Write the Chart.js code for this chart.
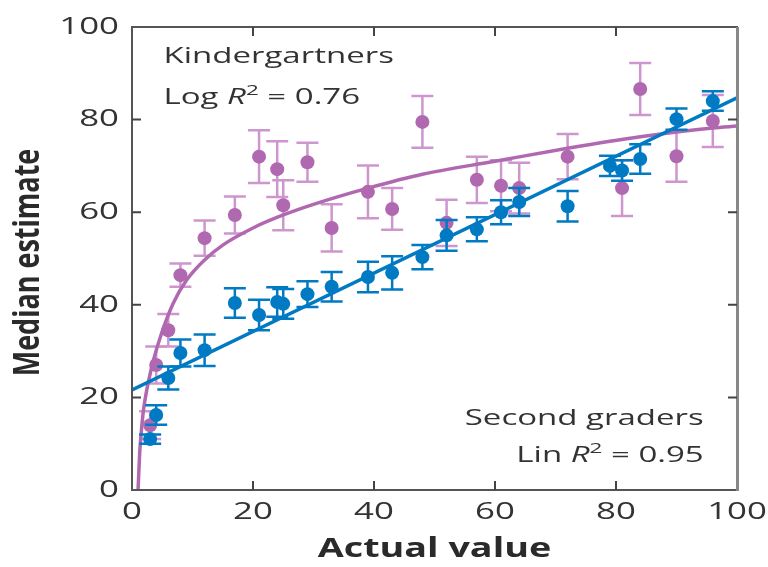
<!DOCTYPE html>
<html>
<head>
<meta charset="utf-8">
<script src="https://cdn.jsdelivr.net/npm/chart.js@4.4.1/dist/chart.umd.min.js"></script>
<style>
  html, body { margin: 0; padding: 0; background: #fff; }
  #wrap { width: 768px; height: 567px; position: relative; }
</style>
</head>
<body>
<div id="wrap"><canvas id="myChart"></canvas></div>
<script>
// kindergartners (purple)
const kinderX = [3, 4, 6, 8, 12, 17, 21, 24, 25, 29, 33, 39, 43, 48, 52, 57, 61, 64, 72, 81, 84, 90, 96];
const kinderY = [14, 27, 34.5, 46.4, 54.4, 59.4, 72, 69.3, 61.5, 70.8, 56.6, 64.4, 60.7, 79.5, 57.7, 67, 65.7, 65.2, 72, 65.2, 86.6, 72.1, 79.7];
const kinderErr = [3, 4, 3.5, 2.5, 3.8, 4, 5.7, 6, 5.4, 4.2, 5.1, 5.7, 4.5, 5.6, 5, 5, 5.5, 5.5, 4.9, 6, 5.6, 5.5, 5.6];

// second graders (blue)
const gradersX = [3, 4, 6, 8, 12, 17, 21, 24, 25, 29, 33, 39, 43, 48, 52, 57, 61, 64, 72, 79, 81, 84, 90, 96];
const gradersY = [11, 16.2, 24.2, 29.6, 30.2, 40.4, 37.8, 40.6, 40.2, 42.3, 43.9, 46, 46.9, 50.3, 55, 56.3, 60, 62.2, 61.3, 70, 69, 71.5, 80.1, 84];
const gradersErr = [1, 2.1, 2.5, 2.9, 3.4, 3.2, 3.3, 3.2, 3.2, 2.8, 3.2, 3.3, 3.6, 2.6, 3.3, 2.6, 2.6, 3, 3.3, 2.2, 2.2, 3.2, 2.3, 2.1];

// fitted curves
const logFitX = [1, 1.15, 1.3, 1.6, 1.9, 2.3, 2.7, 3.5, 4.9, 6.8, 9, 12, 15, 20, 25, 30, 39, 48, 60, 72, 84, 96, 100];
const logFitY = [0, 4.5, 8.6, 13.5, 17.3, 20.6, 23.3, 27.8, 33.9, 40.3, 45.3, 49.7, 52.9, 56.6, 59.4, 61.7, 65.2, 68.2, 71, 73.8, 76.3, 78.2, 78.6];
const linFitX = [0, 100];
const linFitY = [21.6, 84.7];

const xTicks = [0, 20, 40, 60, 80, 100];
const yTicks = [0, 20, 40, 60, 80, 100];

const PURPLE = "rgb(176, 104, 176)";
const PURPLE_LIGHT = "rgb(206, 150, 206)";
const BLUE = "rgb(0, 122, 194)";
const FONT = "'Open Sans', 'Noto Sans', sans-serif";
const SX = 1.45;     // the reference is stretched sideways
const SX_NOTE = 1.5;

const pts = (xs, ys) => xs.map((x, i) => ({ x: x, y: ys[i] }));

const errorBars = {
  id: "errorBars",
  beforeDatasetDraw(chart, args) {
    const ds = chart.data.datasets[args.index];
    if (!ds.errors) return;
    const ctx = chart.ctx;
    const xs = chart.scales.x, ys = chart.scales.y;
    ctx.save();
    ctx.strokeStyle = ds.errorColor;
    ctx.lineWidth = 2.5;
    ds.data.forEach((p, i) => {
      const px = xs.getPixelForValue(p.x);
      const top = ys.getPixelForValue(p.y + ds.errors[i]);
      const bot = ys.getPixelForValue(p.y - ds.errors[i]);
      ctx.beginPath();
      ctx.moveTo(px, top); ctx.lineTo(px, bot);
      ctx.moveTo(px - 11, top); ctx.lineTo(px + 11, top);
      ctx.moveTo(px - 11, bot); ctx.lineTo(px + 11, bot);
      ctx.stroke();
    });
    ctx.restore();
  }
};

// text drawn with a sideways stretch; pieces = [[text, font, dy], ...]
function wideText(ctx, pieces, x, y, align, sx) {
  let w = 0;
  const widths = pieces.map(p => { ctx.font = p[1]; const m = ctx.measureText(p[0]).width; w += m; return m; });
  let left = align === "right" ? x - w * sx : align === "center" ? x - w * sx / 2 : x;
  ctx.save();
  ctx.translate(left, y);
  ctx.scale(sx, 1);
  ctx.textAlign = "left";
  ctx.textBaseline = "middle";
  let cx = 0;
  pieces.forEach((p, i) => {
    ctx.font = p[1];
    ctx.fillText(p[0], cx, p[2] || 0);
    cx += widths[i];
  });
  ctx.restore();
}

function r2Pieces(prefix, value) {
  const n = "22px " + FONT;
  return [[prefix + " ", n], ["R", "italic 22px " + FONT], ["2", "15px " + FONT, -7], [" = " + value, n]];
}

const frameAndText = {
  id: "frameAndText",
  afterDraw(chart) {
    const ctx = chart.ctx;
    const a = chart.chartArea;
    const xs = chart.scales.x, ys = chart.scales.y;
    ctx.save();
    ctx.strokeStyle = "#555";
    ctx.lineWidth = 2;
    ctx.strokeRect(a.left, a.top, a.right - a.left, a.bottom - a.top);
    ctx.strokeStyle = "#888";
    ctx.lineWidth = 3;
    ctx.beginPath(); ctx.moveTo(a.right + 0.5, a.top); ctx.lineTo(a.right + 0.5, a.bottom + 1); ctx.stroke();
    // inward ticks on all four sides
    ctx.strokeStyle = "#444";
    ctx.lineWidth = 2;
    ctx.beginPath();
    xTicks.slice(1, -1).forEach(v => {
      const px = xs.getPixelForValue(v);
      ctx.moveTo(px, a.bottom); ctx.lineTo(px, a.bottom - 9);
      ctx.moveTo(px, a.top); ctx.lineTo(px, a.top + 9);
    });
    yTicks.slice(1, -1).forEach(v => {
      const py = ys.getPixelForValue(v);
      ctx.moveTo(a.left, py); ctx.lineTo(a.left + 9, py);
      ctx.moveTo(a.right, py); ctx.lineTo(a.right - 9, py);
    });
    ctx.stroke();

    // tick labels
    ctx.fillStyle = "#333";
    const tf = "24px " + FONT;
    xTicks.forEach(v => wideText(ctx, [[String(v), tf]], xs.getPixelForValue(v), a.bottom + 22, "center", SX));
    yTicks.forEach(v => wideText(ctx, [[String(v), tf]], a.left - 13, ys.getPixelForValue(v), "right", SX));

    // axis titles
    ctx.fillStyle = "#2a2a2a";
    wideText(ctx, [["Actual value", "bold 26px " + FONT]], (a.left + a.right) / 2, a.bottom + 60, "center", SX);
    ctx.save();
    ctx.translate(29, (a.top + a.bottom) / 2 + 4);
    ctx.rotate(-Math.PI / 2);
    ctx.scale(1, 1.3);
    ctx.font = "bold 27px " + FONT;
    ctx.textAlign = "center";
    ctx.textBaseline = "middle";
    ctx.fillText("Median estimate", 0, 0);
    ctx.restore();

    // annotations
    ctx.fillStyle = "#333";
    const af = "22px " + FONT;
    const lx = xs.getPixelForValue(5.2);
    wideText(ctx, [["Kindergartners", af]], lx, ys.getPixelForValue(93.5), "left", SX_NOTE);
    wideText(ctx, r2Pieces("Log", "0.76"), lx, ys.getPixelForValue(84.8), "left", SX_NOTE);
    const rx = xs.getPixelForValue(94.5);
    wideText(ctx, [["Second graders", af]], rx, ys.getPixelForValue(15.5), "right", SX_NOTE);
    wideText(ctx, r2Pieces("Lin", "0.95"), rx, ys.getPixelForValue(7.5), "right", SX_NOTE);
    ctx.restore();
  }
};

const ctx = document.getElementById("myChart").getContext("2d");

const data = {
  datasets: [
    {
      label: "Kindergartners",
      type: "scatter",
      data: pts(kinderX, kinderY),
      errors: kinderErr,
      errorColor: PURPLE_LIGHT,
      backgroundColor: PURPLE,
      borderWidth: 0,
      pointRadius: 7,
      order: 4,
    },
    {
      label: "Log fit",
      type: "line",
      data: pts(logFitX, logFitY),
      borderColor: PURPLE,
      borderWidth: 3.5,
      pointRadius: 0,
      cubicInterpolationMode: "monotone",
      order: 3,
    },
    {
      label: "Second graders",
      type: "scatter",
      data: pts(gradersX, gradersY),
      errors: gradersErr,
      errorColor: BLUE,
      backgroundColor: BLUE,
      borderWidth: 0,
      pointRadius: 7,
      order: 2,
    },
    {
      label: "Lin fit",
      type: "line",
      data: pts(linFitX, linFitY),
      borderColor: BLUE,
      borderWidth: 3.5,
      pointRadius: 0,
      order: 1,
    },
  ],
};

const config = {
  type: "scatter",
  data: data,
  options: {
    responsive: true,
    maintainAspectRatio: false,
    animation: false,
    layout: { padding: { top: 27, right: 31, left: 0, bottom: 0 } },
    plugins: {
      legend: { display: false },
      tooltip: { enabled: false },
    },
    scales: {
      x: {
        type: "linear",
        min: 0,
        max: 100,
        afterFit: (s) => { s.height = 77; },
        afterBuildTicks: (s) => { s.ticks = xTicks.map(v => ({ value: v })); },
        grid: { display: false },
        border: { display: false },
        ticks: { display: false },
      },
      y: {
        type: "linear",
        min: 0,
        max: 100,
        afterFit: (s) => { s.width = 132; },
        afterBuildTicks: (s) => { s.ticks = yTicks.map(v => ({ value: v })); },
        grid: { display: false },
        border: { display: false },
        ticks: { display: false },
      },
    },
  },
  plugins: [errorBars, frameAndText],
};

const chart = new Chart(ctx, config);
</script>
</body>
</html>
